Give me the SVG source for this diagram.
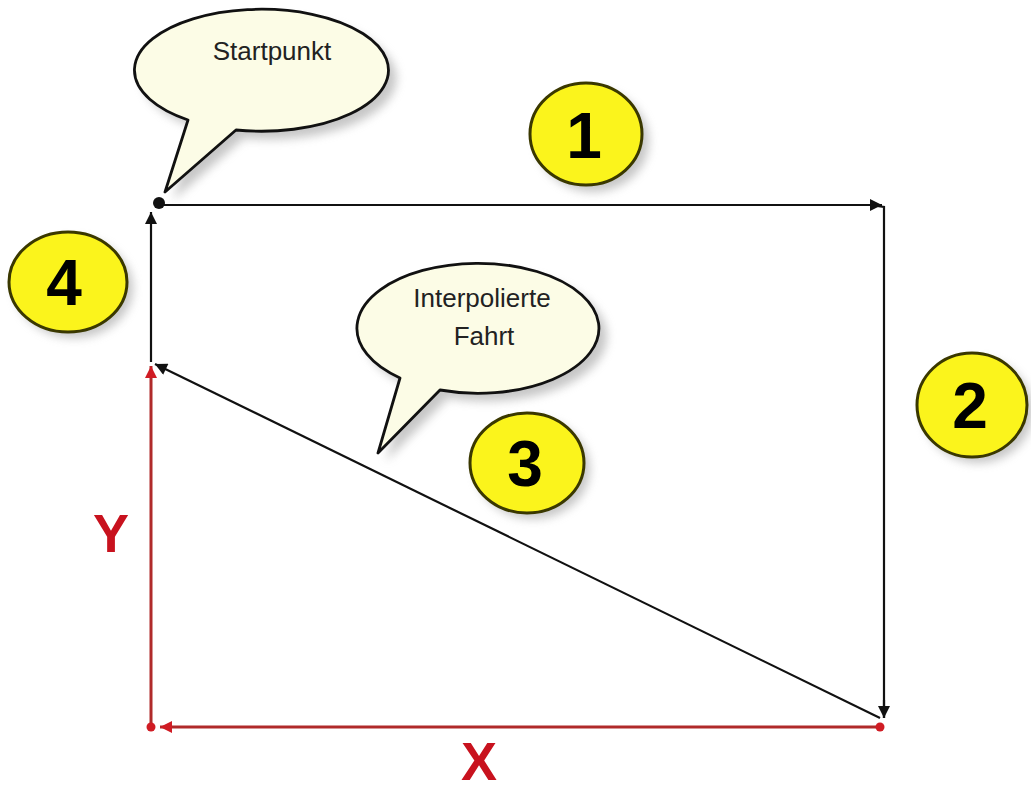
<svg xmlns="http://www.w3.org/2000/svg" width="1031" height="792" viewBox="0 0 1031 792">
<style>
.path{stroke:#111;stroke-width:2.2;fill:none}
.red{stroke:#b02a2a;stroke-width:3;fill:none}
.bubble{fill:#fcfce6;stroke:#111;stroke-width:2.8;stroke-linejoin:round}
.shadow{fill:#999;opacity:0.55;filter:url(#blur)}
.badge{fill:#fbf41c;stroke:#3a3800;stroke-width:3}
.num{font-family:"Liberation Sans",Arial,sans-serif;font-weight:bold;font-size:64px;fill:#000;text-anchor:middle}
.btxt{font-family:"Liberation Sans",Arial,sans-serif;font-size:26px;fill:#222;text-anchor:middle}
.axis{font-family:"Liberation Sans",Arial,sans-serif;font-weight:bold;font-size:54px;fill:#c8121e;text-anchor:middle}
</style>
<defs>
<filter id="blur" x="-20%" y="-20%" width="140%" height="140%"><feGaussianBlur stdDeviation="5"/></filter>
<marker id="abk" viewBox="0 0 10 10" refX="10" refY="5" markerWidth="14" markerHeight="12" markerUnits="userSpaceOnUse" orient="auto"><path d="M0,0 L10,5 L0,10 z" fill="#111"/></marker>
<marker id="ar" viewBox="0 0 10 10" refX="10" refY="5" markerWidth="14" markerHeight="12" markerUnits="userSpaceOnUse" orient="auto"><path d="M0,0 L10,5 L0,10 z" fill="#d01c24"/></marker>
</defs>
<rect width="1031" height="792" fill="#fff"/>

<g id="connectors">
<line class="red" x1="151" y1="727" x2="151" y2="366" marker-end="url(#ar)"/>
<line class="red" x1="880" y1="727" x2="160" y2="727" marker-end="url(#ar)"/>
<circle cx="151" cy="727" r="4.5" fill="#d01c24"/>
<circle cx="880" cy="727" r="4.5" fill="#d01c24"/>
<line class="path" x1="160" y1="205" x2="882" y2="205" marker-end="url(#abk)"/>
<polyline class="path" points="870,205 884,207 884,718"/>
<line class="path" x1="884" y1="700" x2="884" y2="718" marker-end="url(#abk)"/>
<line class="path" x1="880" y1="718" x2="155" y2="364" marker-end="url(#abk)"/>
<line class="path" x1="151" y1="362" x2="151" y2="212" marker-end="url(#abk)"/>
<circle cx="159" cy="203" r="6" fill="#111"/>
</g>

<g id="bubble-startpunkt">
<path class="shadow" transform="translate(8,8)" d="M188,120 L165,192 L236,130 A127,61 0 1 0 188,120 z"/>
<path class="bubble" d="M188,120 L165,192 L236,130 A127,61 0 1 0 188,120 z"/>
<text class="btxt" x="272" y="60">Startpunkt</text>
</g>

<g id="bubble-interpoliert">
<path class="shadow" transform="translate(8,8)" d="M400,378 L378,453 L440,390 A121,65 0 1 0 400,378 z"/>
<path class="bubble" d="M400,378 L378,453 L440,390 A121,65 0 1 0 400,378 z"/>
<text class="btxt" x="482" y="307">Interpolierte</text>
<text class="btxt" x="484" y="345">Fahrt</text>
</g>

<g id="badge-1">
<ellipse class="shadow" cx="593" cy="141" rx="56" ry="51"/>
<ellipse class="badge" cx="586" cy="134" rx="56" ry="51"/>
<text class="num" x="584" y="158">1</text>
</g>
<g id="badge-2">
<ellipse class="shadow" cx="978" cy="411" rx="55" ry="52"/>
<ellipse class="badge" cx="972" cy="405" rx="55" ry="52"/>
<text class="num" x="970" y="428">2</text>
</g>
<g id="badge-3">
<ellipse class="shadow" cx="533" cy="469" rx="57" ry="50"/>
<ellipse class="badge" cx="527" cy="463" rx="57" ry="50"/>
<text class="num" x="525" y="486">3</text>
</g>
<g id="badge-4">
<ellipse class="shadow" cx="74" cy="288" rx="59" ry="50"/>
<ellipse class="badge" cx="68" cy="282" rx="59" ry="50"/>
<text class="num" x="64" y="305">4</text>
</g>

<g id="labels">
<text class="axis" x="111" y="552">Y</text>
<text class="axis" x="479" y="780">X</text>
</g>
</svg>
